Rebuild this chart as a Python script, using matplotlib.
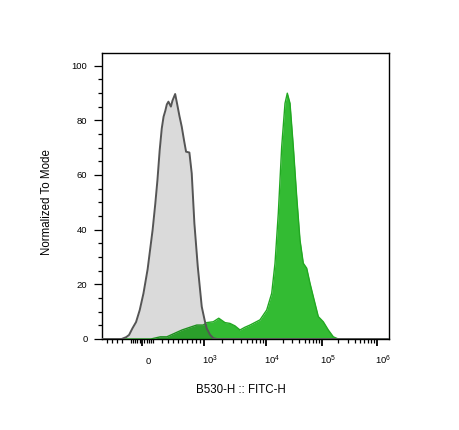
import numpy as np
import matplotlib
matplotlib.use('Agg')
import matplotlib.pyplot as plt
from matplotlib.transforms import ScaledTranslation

# ---------------- data ----------------
control_x = [-500, -106, -75, -60, -43.5, -26.5, -10, 6.5, 25, 48.5, 62, 73.5, 86, 98.5, 124,
             155, 185, 216, 264, 300, 350, 396, 440, 493, 540, 580, 646, 694, 758, 849,
             955, 1050, 1126, 1270, 1438, 1650, 1.7e6]
control_y = [0, 0, 0.7, 1.5, 3.9, 6.2, 10.6, 16.7, 25.5, 39.9, 49.5, 58.2, 69.0, 77.0, 81.3,
             83.5, 85.8, 86.8, 85.0, 87.2, 89.6, 85.6, 81.6, 77.7, 72.5, 68.5, 68.2, 60.6, 42.3, 26.5,
             11.8, 6.6, 3.9, 1.6, 0.3, 0, 0]

stained_x = [-500, 40, 90, 185, 500, 660, 820, 995, 1126, 1437, 1760, 2217, 2668, 3208,
             3860, 4645, 5593, 8095, 10420, 12800, 14660, 16790, 19310, 22120, 24310,
             27160, 31110, 35770, 40970, 46930, 53950, 61800, 70800, 86960, 106900,
             131800, 162500, 200400, 1.7e6]
stained_y = [0, 0, 0.8, 0.8, 3.3, 4.3, 5.1, 5.1, 6.0, 6.3, 7.6, 6.0, 5.7, 4.8,
             3.3, 4.3, 5.1, 7.0, 10.6, 16.7, 27.7, 46.0, 70.4, 86.2, 89.9,
             86.2, 70.4, 52.1, 36.2, 27.7, 25.9, 20.4, 15.5, 8.2, 6.3,
             3.3, 0.8, 0, 0]

major_ticks = [0, 1e3, 1e4, 1e5, 1e6]
major_labels = ['0', r'$\mathdefault{10^{3}}$', r'$\mathdefault{10^{4}}$',
                r'$\mathdefault{10^{5}}$', r'$\mathdefault{10^{6}}$']
minor_ticks = ([-400, -300, -200, -100] + [-50, -40, -30, -20, -10, 10, 20, 30, 40, 50]
               + [100 * k for k in range(1, 10)]
               + [k * 10 ** n for n in (3, 4, 5) for k in range(2, 10)])

# ---------------- biexponential-like display scale (calibration) ----------------
_cal_vals = np.array([-1000, -500, -400, -300, -200, -100, 0, 100, 200, 300, 400, 500, 600,
                      700, 800, 900, 1000, 1e4, 1e5, 1e6, 1e7], dtype=float)
_cal_pos = np.array([80, 102, 107, 112, 117, 122, 142, 162, 167.5, 172.5, 177.5, 182, 187,
                     192, 196, 199.5, 203.5, 265.7, 321.7, 376.7, 431.7])
_cal_u = np.arcsinh(_cal_vals / 100.0)


def fwd(x):
    x = np.asarray(x, dtype=float)
    return np.interp(np.arcsinh(x / 100.0), _cal_u, _cal_pos)


def inv(p):
    p = np.asarray(p, dtype=float)
    return 100.0 * np.sinh(np.interp(p, _cal_pos, _cal_u))


# ---------------- figure ----------------
W, H = 459, 430
fig = plt.figure(figsize=(W / 100, H / 100), dpi=100)
ax = fig.add_axes([101.7 / W, 1 - 339 / H, (389 - 101.7) / W, (339 - 53) / H])
ax.set_xscale('function', functions=(fwd, inv))

green = '#33bb33'
ax.fill_between(stained_x, stained_y, 0, color=green, lw=0, zorder=2)
ax.plot(stained_x, stained_y, color='#22a822', lw=1.0, zorder=3, solid_joinstyle='round')
ax.fill_between(control_x, control_y, 0, color='black', alpha=0.145, lw=0, zorder=4)
ax.plot(control_x, control_y, color='#555555', lw=1.4, zorder=5, solid_joinstyle='round')

ax.set_xlim(float(inv(101.7)), float(inv(389)))
ax.set_ylim(0, 104.6)

tick_font = ['Liberation Sans', 'DejaVu Sans']
ax.set_xticks(major_ticks)
ax.set_xticks(minor_ticks, minor=True)
ax.set_xticklabels(major_labels)
ax.set_yticks([0, 20, 40, 60, 80, 100])
ax.set_yticks(np.arange(0, 101, 5), minor=True)

ax.tick_params(axis='both', which='both', direction='out', width=0.9, color='black')
ax.tick_params(axis='y', which='major', length=5.8, pad=4.5, labelsize=6.8)
ax.tick_params(axis='y', which='minor', length=2.9)
ax.tick_params(axis='x', which='major', length=5.0, width=1.3, pad=13.2, labelsize=6.8)
ax.tick_params(axis='x', which='minor', length=2.9)

for lab in ax.get_yticklabels():
    lab.set_fontfamily(tick_font)
off = ScaledTranslation(6.5 / 100, 0, fig.dpi_scale_trans)
for lab in ax.get_xticklabels():
    lab.set_fontfamily(tick_font)
    lab.set_verticalalignment('baseline')
    lab.set_transform(lab.get_transform() + off)

for s in ax.spines.values():
    s.set_linewidth(1.0)
    s.set_color('black')

fig.text(47 / W, 1 - 202 / H, 'Normalized To Mode', rotation=90, ha='center', va='center',
         fontsize=8.3, family=['Liberation Sans', 'DejaVu Sans'])
fig.text(241 / W, 1 - 390 / H, 'B530-H :: FITC-H', ha='center', va='center',
         fontsize=8.3, family=['Liberation Sans', 'DejaVu Sans'])

fig.savefig('out.png', dpi=100)
